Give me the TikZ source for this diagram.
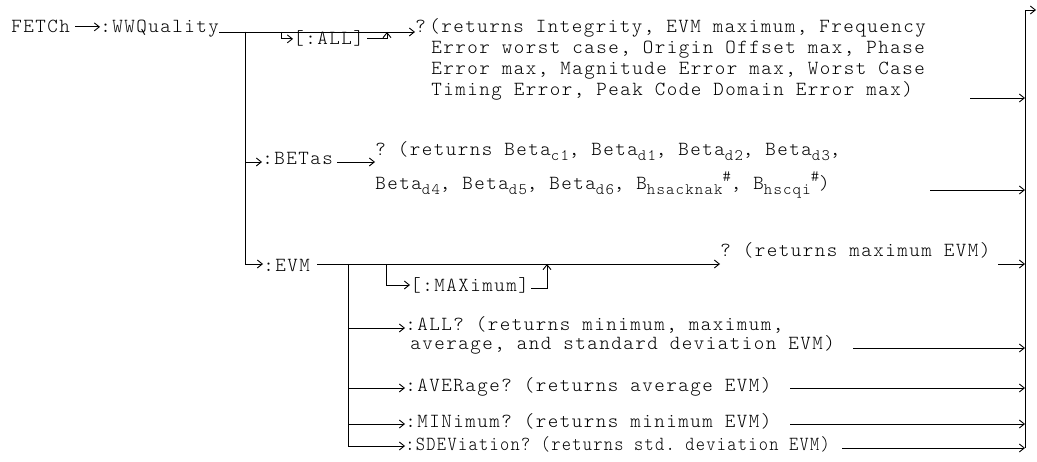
\documentclass[tikz,border=0pt]{standalone}
\usepackage{fontspec}
\setmonofont[LetterSpace=7.5]{Latin Modern Mono Light}
\usetikzlibrary{arrows.meta}
\newcommand\sbx[1]{\raisebox{-5pt}{\fontsize{16}{16}\selectfont #1}}
\newcommand\spx[1]{\raisebox{8pt}{\fontsize{16}{16}\selectfont #1}}
\begin{document}
\begin{tikzpicture}[x=1pt,y=-1pt,line width=0.9pt,
  txt/.style={inner sep=0pt,anchor=base west,font=\ttfamily\fontsize{20}{21}\selectfont,align=left},
  arr/.style={-{Straight Barb[length=5pt,width=8pt]}}]
\useasboundingbox[fill=white] (0,0) rectangle (1037,462);
% text nodes (multi-line nodes are anchored at the baseline of their last line)
\node[txt] (fetch) at (11,33) {FETCh};
\node[txt] (wwq) at (100,33) {:WWQuality};
\node[txt] (allq) at (415,33) {?};
\node[txt] (allr) at (429,96) {(returns Integrity, EVM maximum, Frequency\\
\hspace*{2pt}Error worst case, Origin Offset max, Phase\\
\hspace*{2pt}Error max, Magnitude Error max, Worst Case\\
\hspace*{2pt}Timing Error, Peak Code Domain Error max)};
\node[txt] (all) at (293,45) {[:ALL]};
\node[txt] (betas) at (262,165) {:BETas};
\node[txt] (betr) at (375,190) {? (returns Beta\sbx{c1}, Beta\sbx{d1}, Beta\sbx{d2}, Beta\sbx{d3},\\[11pt]
Beta\sbx{d4}, Beta\sbx{d5}, Beta\sbx{d6}, B\sbx{hsacknak}\spx{\#}, B\sbx{hscqi}\spx{\#})};
\node[txt] (evm) at (263,272) {:EVM};
\node[txt] (max) at (410,292) {[:MAXimum]};
\node[txt] (maxr) at (720,257) {? (returns maximum EVM)};
\node[txt] (allr2) at (405,350) {:ALL? (returns minimum, maximum,\\[-2pt]
\hspace*{5pt}average, and standard deviation EVM)};
\node[txt] (avg) at (405,392) {:AVERage? (returns average EVM)};
\node[txt] (min) at (405,428) {:MINimum? (returns minimum EVM)};
\node[txt] (sdev) at (405,450) {\scalebox{0.876}[1]{:SDEViation? (returns std. deviation EVM)}};
% coordinates
\coordinate (j1) at (245,32);
\coordinate (j2) at (281,32);
\coordinate (up1) at (387,32);
\coordinate (rb) at (0,162);
\coordinate (re) at (0,264);
\coordinate (j3) at (348,264);
\coordinate (j4) at (386,264);
\coordinate (rm) at (0,285);
\coordinate (rm2) at (0,288);
\coordinate (up2) at (547,264);
\coordinate (ra) at (0,328);
\coordinate (rav) at (0,388);
\coordinate (rmi) at (0,424);
\coordinate (rs) at (0,446);
\coordinate (rt) at (1025,10);
\coordinate (rbot) at (1025,448);
\coordinate (out) at (1036,10);
\coordinate (e1) at (970,98);
\coordinate (e2) at (930,190);
\coordinate (e3) at (998,264);
\coordinate (e4) at (853,348);
\coordinate (e5) at (790,388);
\coordinate (e6) at (790,424);
\coordinate (e7) at (842,448);
% connectors
\draw[arr] ([xshift=5pt]fetch.east) -- (fetch.east -| wwq.west);
\draw[arr] (wwq.east |- j1) -- (allq.west |- j1);
\draw (j1) -- (j1 |- re);
\draw[arr] (j2) |- (all.west);
\draw[arr] ([xshift=3pt]all.east) -| (up1);
\draw[arr] (j1) |- (rb -| betas.west);
\draw[arr] ([xshift=4pt]betas.east |- rb) -- (rb -| betr.west);
\draw[arr] (j1) |- (re -| evm.west);
\draw[arr] ([xshift=7pt]evm.east |- re) -- (re -| maxr.west);
\draw[arr] (j4) |- (rm -| max.west);
\draw[arr] ([xshift=2pt]max.east |- rm2) -| (up2);
\draw[arr] (j3) |- (rs -| sdev.west);
\draw[arr] (j3 |- ra) -- (ra -| allr2.west);
\draw[arr] (j3 |- rav) -- (rav -| avg.west);
\draw[arr] (j3 |- rmi) -- (rmi -| min.west);
% right rail
\draw[arr] (rbot) -- (rt) -- (out);
\draw[arr] (e1) -- (e1 -| rt);
\draw[arr] (e2) -- (e2 -| rt);
\draw[arr] (e3) -- (e3 -| rt);
\draw[arr] (e4) -- (e4 -| rt);
\draw[arr] (e5) -- (e5 -| rt);
\draw[arr] (e6) -- (e6 -| rt);
\draw[arr] (e7) -- (e7 -| rt);
\end{tikzpicture}
\end{document}
